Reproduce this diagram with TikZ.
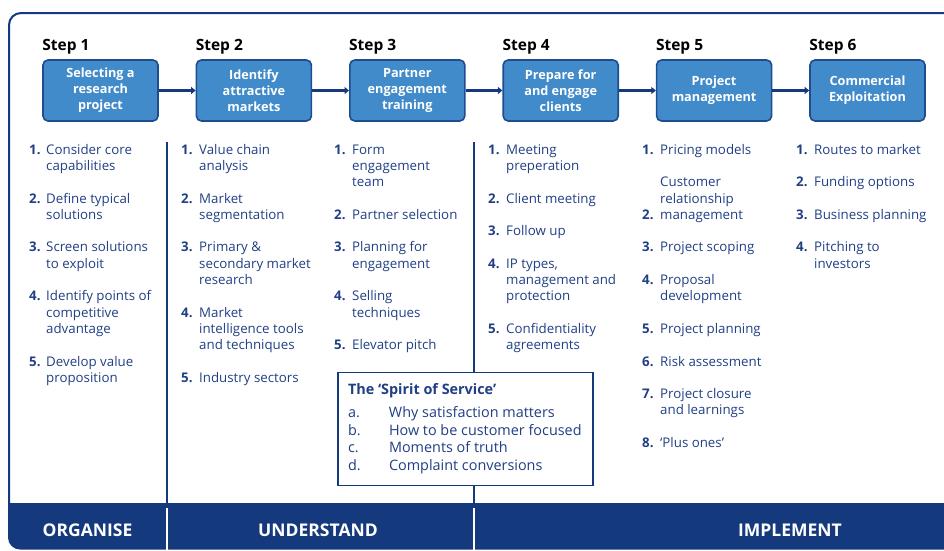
\documentclass[tikz,border=0pt]{standalone}
\usepackage{fontspec}
\setmainfont{Open Sans}
\usetikzlibrary{arrows.meta,positioning}

\definecolor{navy}{HTML}{15397D}
\definecolor{stepfill}{HTML}{428BCB}
\definecolor{stepedge}{HTML}{1E4C8E}
\definecolor{listblue}{HTML}{203F85}

\begin{document}
\begin{tikzpicture}[
    x=1pt, y=-1pt,
    stepbox/.style={rectangle, rounded corners=5pt, draw=stepedge, line width=1.6pt,
        fill=stepfill, text=white, minimum width=115pt, minimum height=61pt,
        inner sep=0pt, align=center, font=\fontsize{12.7}{16}\selectfont\bfseries},
    steplabel/.style={inner sep=0pt, font=\fontsize{15.5}{18}\selectfont\bfseries},
    flow/.style={navy, line width=2.3pt, -{Triangle[length=4.5pt,width=7pt]}},
    tasklist/.style={anchor=north west, inner sep=0pt, text=listblue,
        font=\fontsize{13.3}{16.3}\selectfont},
    spirit/.style={draw=navy, line width=1.2pt, fill=white, text=listblue,
        minimum width=255pt, minimum height=112pt, inner sep=10pt,
        font=\fontsize{14.4}{17.4}\selectfont},
    phase/.style={text=white, font=\fontsize{17.5}{20}\selectfont\bfseries},
    divider/.style={navy, line width=2pt},
]
    \path[use as bounding box, clip] (0,0) rectangle (944,550);

    % phase bar and outer frame
    \begin{scope}
        \clip (0,503) rectangle (944,550);
        \fill[navy, rounded corners=12pt] (8,12) rectangle (990,549.5);
    \end{scope}
    \draw[navy, line width=2pt, rounded corners=12pt] (9,520) -- (9,13) -- (990,13);
    \draw[white, line width=2pt] (167,508) -- (167,550);
    \draw[white, line width=2pt] (474,508) -- (474,550);

    % column separators
    \draw[divider] (167,142) -- (167,503);
    \draw[divider] (474,142) -- (474,503);

    % steps
    \node[stepbox] (s1) at (100.5,90.5) {Selecting a\\research\\project};
    \node[stepbox, right=36.8pt of s1] (s2) {Identify\\attractive\\markets};
    \node[stepbox, right=36.8pt of s2] (s3) {Partner\\engagement\\training};
    \node[stepbox, right=36.8pt of s3] (s4) {Prepare for\\and engage\\clients};
    \node[stepbox, right=36.8pt of s4] (s5) {Project\\management};
    \node[stepbox, right=36.8pt of s5] (s6) {Commercial\\Exploitation};

    \node[steplabel, above right=5pt and 0pt of s1.north west] (l1) {Step 1};
    \node[steplabel, above right=5pt and 0pt of s2.north west] (l2) {Step 2};
    \node[steplabel, above right=5pt and 0pt of s3.north west] (l3) {Step 3};
    \node[steplabel, above right=5pt and 0pt of s4.north west] (l4) {Step 4};
    \node[steplabel, above right=5pt and 0pt of s5.north west] (l5) {Step 5};
    \node[steplabel, above right=5pt and 0pt of s6.north west] (l6) {Step 6};

    \draw[flow] (s1) -- (s2);
    \draw[flow] (s2) -- (s3);
    \draw[flow] (s3) -- (s4);
    \draw[flow] (s4) -- (s5);
    \draw[flow] (s5) -- (s6);

    % task lists
    \node[tasklist] (c1) at (29,142.5) {\begin{tabular}{@{}p{17pt}@{}l@{}}
        \textbf{1.} & Consider core\\ & capabilities\\ &\\
        \textbf{2.} & Define typical\\ & solutions\\ &\\
        \textbf{3.} & Screen solutions\\ & to exploit\\ &\\
        \textbf{4.} & Identify points of\\ & competitive\\ & advantage\\ &\\
        \textbf{5.} & Develop value\\ & proposition
    \end{tabular}};
    \node[tasklist] (c2) at (181,142.5) {\begin{tabular}{@{}p{18pt}@{}l@{}}
        \textbf{1.} & Value chain\\ & analysis\\ &\\
        \textbf{2.} & Market\\ & segmentation\\ &\\
        \textbf{3.} & Primary \&\\ & secondary market\\ & research\\ &\\
        \textbf{4.} & Market\\ & intelligence tools\\ & and techniques\\ &\\
        \textbf{5.} & Industry sectors
    \end{tabular}};
    \node[tasklist] (c3) at (334,142.5) {\begin{tabular}{@{}p{18pt}@{}l@{}}
        \textbf{1.} & Form\\ & engagement\\ & team\\ &\\
        \textbf{2.} & Partner selection\\ &\\
        \textbf{3.} & Planning for\\ & engagement\\ &\\
        \textbf{4.} & Selling\\ & techniques\\ &\\
        \textbf{5.} & Elevator pitch
    \end{tabular}};
    \node[tasklist] (c4) at (488,142.5) {\begin{tabular}{@{}p{18pt}@{}l@{}}
        \textbf{1.} & Meeting\\ & preperation\\ &\\
        \textbf{2.} & Client meeting\\ &\\
        \textbf{3.} & Follow up\\ &\\
        \textbf{4.} & IP types,\\ & management and\\ & protection\\ &\\
        \textbf{5.} & Confidentiality\\ & agreements
    \end{tabular}};
    \node[tasklist] (c5) at (642,142.5) {\begin{tabular}{@{}p{18pt}@{}l@{}}
        \textbf{1.} & Pricing models\\ &\\
         & Customer\\ & relationship\\ \textbf{2.} & management\\ &\\
        \textbf{3.} & Project scoping\\ &\\
        \textbf{4.} & Proposal\\ & development\\ &\\
        \textbf{5.} & Project planning\\ &\\
        \textbf{6.} & Risk assessment\\ &\\
        \textbf{7.} & Project closure\\ & and learnings\\ &\\
        \textbf{8.} & ‘Plus ones’
    \end{tabular}};
    \node[tasklist] (c6) at (796,142.5) {\begin{tabular}{@{}p{18pt}@{}l@{}}
        \textbf{1.} & Routes to market\\ &\\
        \textbf{2.} & Funding options\\ &\\
        \textbf{3.} & Business planning\\ &\\
        \textbf{4.} & Pitching to\\ & investors
    \end{tabular}};

    % spirit of service
    \node[spirit] (sos) at (465.5,429) {\begin{tabular}{@{}p{41pt}@{}p{194pt}@{}}
        \multicolumn{2}{@{}l@{}}{\bfseries The ‘Spirit of Service’}\\[5.6pt]
        a. & Why satisfaction matters\\
        b. & How to be customer focused\\
        c. & Moments of truth\\
        d. & Complaint conversions
    \end{tabular}};

    % phases
    \node[phase] (org) at (87.5,530) {ORGANISE};
    \node[phase] (und) at (318,530) {UNDERSTAND};
    \node[phase] (imp) at (790,530) {IMPLEMENT};
\end{tikzpicture}
\end{document}
